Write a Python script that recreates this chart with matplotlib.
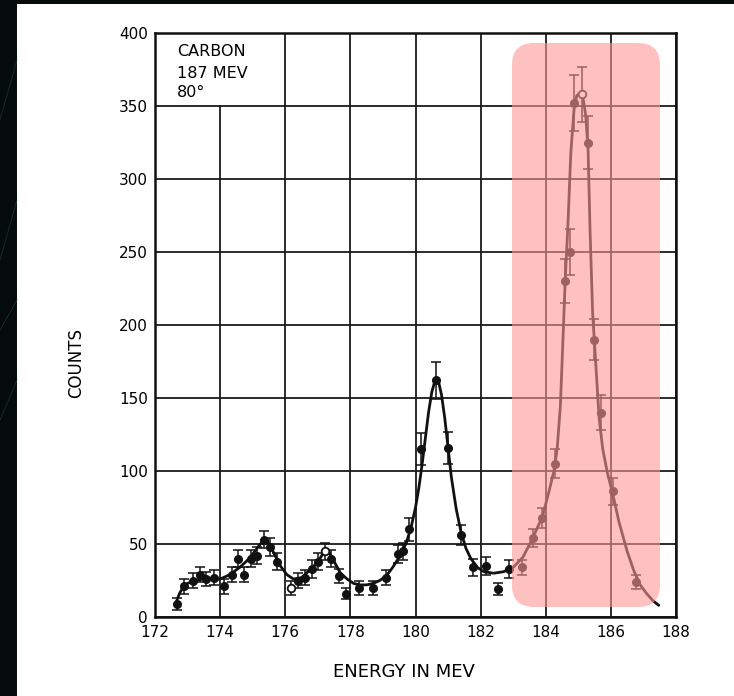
import matplotlib
matplotlib.use('Agg')
import matplotlib.pyplot as plt
from matplotlib.patches import Rectangle, FancyBboxPatch

# ---- data ----
energy = [172.67, 172.90, 173.17, 173.38, 173.58, 173.82, 174.12, 174.35, 174.54, 174.73,
          174.94, 175.12, 175.34, 175.53, 175.75, 176.19, 176.40, 176.60, 176.81, 177.01,
          177.21, 177.42, 177.65, 177.86, 178.27, 178.68, 179.09, 179.47, 179.62, 179.80,
          180.18, 180.62, 181.00, 181.41, 181.77, 182.17, 182.53, 182.87, 183.28, 183.61,
          183.90, 184.29, 184.59, 184.75, 184.87, 185.11, 185.30, 185.49, 185.69, 186.05,
          186.77]
counts = [9, 21, 25, 29, 26, 27, 21, 29, 40, 29,
          40, 42, 53, 48, 38, 20, 25, 27, 33, 38,
          45, 40, 28, 16, 20, 20, 27, 43, 45, 60,
          115, 162, 116, 56, 34, 35, 19, 33, 34, 54,
          68, 105, 230, 250, 352, 358, 325, 190, 140, 86,
          24]
errors = [4, 5, 5, 5, 5, 5, 5, 5, 6, 5,
          6, 6, 6, 6, 6, 5, 5, 5, 6, 6,
          6, 6, 5, 4, 5, 5, 5, 6, 6, 8,
          11, 13, 11, 7, 6, 6, 4, 6, 5, 6,
          7, 10, 15, 16, 19, 19, 18, 14, 12, 9,
          5]
open_energy = [176.19, 177.21, 185.11]

curve_energy = [172.65, 172.75, 172.85, 173.0, 173.2, 173.5, 173.8, 174.0, 174.3, 174.6,
                174.8, 175.0, 175.2, 175.35, 175.45, 175.6, 175.85, 176.05, 176.25, 176.5,
                176.8, 177.0, 177.15, 177.25, 177.35, 177.5, 177.7, 177.9, 178.1, 178.3,
                178.5, 178.7, 178.9, 179.1, 179.3, 179.5, 179.7, 179.85, 180.0, 180.1,
                180.2, 180.3, 180.4, 180.5, 180.6, 180.7, 180.8, 180.9, 181.0, 181.1,
                181.25, 181.4, 181.55, 181.7, 181.9, 182.1, 182.4, 182.7, 183.0, 183.3,
                183.6, 183.9, 184.1, 184.25, 184.35, 184.45, 184.52, 184.6, 184.68, 184.77,
                184.87, 184.95, 185.05, 185.15, 185.23, 185.3, 185.36, 185.44, 185.54, 185.64,
                185.75, 185.9, 186.05, 186.25, 186.5, 186.7, 186.9, 187.1, 187.3, 187.47]
curve_counts = [10, 16, 20, 23, 25, 26, 26, 26, 29, 34,
                38, 43, 49, 53, 52, 46, 35, 29, 26, 27,
                33, 38, 43, 45, 44, 38, 30, 26, 23, 22,
                22, 23, 25, 28, 34, 41, 50, 60, 75, 88,
                104, 122, 140, 154, 162, 162, 152, 136, 116, 96,
                74, 58, 47, 40, 34, 31, 30, 31, 34, 41,
                54, 69, 86, 100, 115, 145, 185, 232, 268, 318,
                348, 357, 359, 355, 343, 320, 265, 208, 172, 136,
                115, 98, 85, 65, 45, 32, 22, 16, 11, 8]

x_ticks = [172, 174, 176, 178, 180, 182, 184, 186, 188]
y_ticks = [0, 50, 100, 150, 200, 250, 300, 350, 400]
label_lines = ["CARBON", "187 MEV", "80°"]
x_label = "ENERGY IN MEV"
y_label = "COUNTS"

W, H = 734, 696
fig = plt.figure(figsize=(W / 100, H / 100), dpi=100)
fig.patch.set_facecolor('#050b0b')

# background "paper"
bg = fig.add_axes([0, 0, 1, 1], zorder=0)
bg.set_xlim(0, W); bg.set_ylim(H, 0); bg.axis('off')
bg.add_patch(Rectangle((17, 4), W - 17, H - 4, facecolor='white', edgecolor='none'))
for (x0, y0, x1, y1) in [(0, 120, 17, 60), (0, 260, 17, 200), (0, 330, 17, 300), (0, 420, 17, 380)]:
    bg.plot([x0, x1], [y0, y1], color='#1f4a44', lw=0.6, alpha=0.6)

# main axes
ax = fig.add_axes([155 / W, 1 - 617 / H, 521 / W, 584 / H], zorder=1)
ax.set_xlim(172, 188)
ax.set_ylim(0, 400)
ax.set_xticks(x_ticks)
ax.set_yticks(y_ticks)
ax.set_xticklabels([str(t) for t in x_ticks])
ax.set_yticklabels([str(t) for t in y_ticks])
ax.set_axisbelow(True)
ax.grid(True, color='#1a1a1a', lw=1.3)
ax.tick_params(length=0, labelsize=11, colors='black')
ax.tick_params(axis='x', pad=6)
ax.tick_params(axis='y', pad=5)
for s in ax.spines.values():
    s.set_linewidth(1.8)
    s.set_color('#111111')

# blank area for the label
ax.add_patch(Rectangle((172.06, 351.0), 3.88, 48.3, facecolor='white', edgecolor='none', zorder=1))
ax.text(172.67, 387, label_lines[0], fontsize=11.5, va='center', ha='left', zorder=3)
ax.text(172.67, 372.5, label_lines[1], fontsize=11.5, va='center', ha='left', zorder=3)
ax.text(172.67, 359, label_lines[2], fontsize=11.5, va='center', ha='left', zorder=3)

# fitted curve
ax.plot(curve_energy, curve_counts, color='#111111', lw=2.0, zorder=3,
        solid_joinstyle='round', solid_capstyle='round')

# data points with error bars
filled_e = [e for e in energy if e not in open_energy]
filled_c = [c for e, c in zip(energy, counts) if e not in open_energy]
open_c = [c for e, c in zip(energy, counts) if e in open_energy]
ax.errorbar(energy, counts, yerr=errors, fmt='none', ecolor='#111111', elinewidth=1.1,
            capsize=3.5, capthick=1.1, zorder=4)
ax.plot(filled_e, filled_c, 'o', color='#111111', ms=5.5, zorder=5)
ax.plot(open_energy, open_c, 'o', mfc='white', mec='#111111', mew=1.3, ms=5.5, zorder=5)

fig.text(76 / W, 1 - 363 / H, y_label, rotation=90, ha='center', va='center', fontsize=12)
fig.text(404 / W, 1 - 672 / H, x_label, ha='center', va='center', fontsize=13)

# pink highlight overlay
ov = fig.add_axes([0, 0, 1, 1], zorder=2)
ov.set_xlim(0, W); ov.set_ylim(H, 0); ov.axis('off')
ov.patch.set_alpha(0)
ov.add_patch(FancyBboxPatch((512, 43), 148, 564, boxstyle='round,pad=0,rounding_size=22',
                            facecolor='#ff9696', edgecolor='none', alpha=0.6))

fig.savefig('out.png', dpi=100, facecolor=fig.get_facecolor())
